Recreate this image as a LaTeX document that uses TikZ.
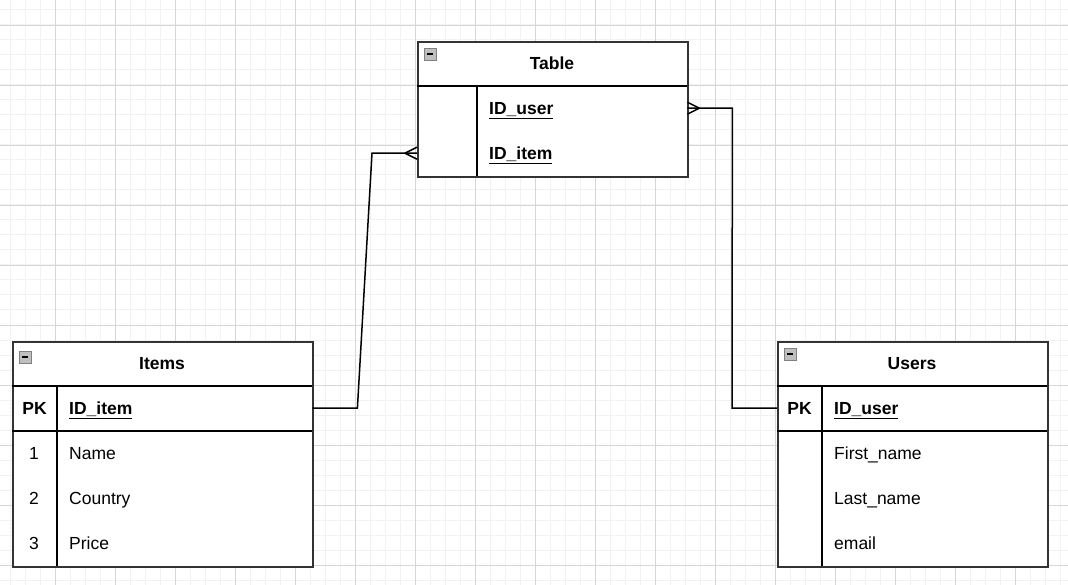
\documentclass[tikz,border=0pt]{standalone}
\usepackage{fontspec}
\setmainfont{Liberation Sans}
\usetikzlibrary{calc}
\begin{document}
\begin{tikzpicture}[x=1pt,y=-1pt,
  minorgrid/.style={draw=black!5,line width=1pt},
  majorgrid/.style={draw=black!16,line width=0.9pt},
  entbox/.style={draw=black!80,line width=2pt,fill=white,anchor=north west,inner sep=0pt},
  rowbox/.style={inner sep=0pt,anchor=north west},
  divider/.style={draw=black,line width=2pt},
  hdr/.style={font=\fontsize{17.5}{20}\selectfont\bfseries,anchor=base},
  fld/.style={font=\fontsize{17.5}{20}\selectfont,anchor=base west,inner sep=0pt},
  key/.style={font=\fontsize{17.5}{20}\selectfont\bfseries,anchor=base west,inner sep=0pt},
  num/.style={font=\fontsize{17.5}{20}\selectfont,anchor=base,inner sep=0pt},
  conn/.style={draw=black,line width=1.5pt},
  iconbox/.style={fill=black!25,draw=black!50,line width=0.8pt}]
\useasboundingbox (0,0) rectangle (1068,585);
\fill[white] (0,0) rectangle (1068,585);
% grid
\foreach \k in {0,...,70}{\path[minorgrid] ({10+15*\k},0) -- ({10+15*\k},585);}
\foreach \k in {0,...,38}{\path[minorgrid] (0,{10+15*\k}) -- (1068,{10+15*\k});}
\foreach \k in {0,...,17}{\path[majorgrid] ({55+60*\k},0) -- ({55+60*\k},585);}
\foreach \k in {0,...,9}{\path[majorgrid] (0,{25+60*\k}) -- (1068,{25+60*\k});}

% ---------- Table ----------
\node[entbox,minimum width=270pt,minimum height=135pt] (tbl) at (417,41) {};
\node[rowbox,minimum width=270pt,minimum height=45pt] (tuser) at (417,85.5) {};
\node[rowbox,minimum width=270pt,minimum height=45pt] (titem) at (417,130.5) {};
\draw[divider] (417,86) -- (687,86);
\draw[divider] (477,86) -- (477,176);
\filldraw[iconbox] (424,48) rectangle (436,60);
\draw[line width=1.2pt] (427,54) -- (433,54);
\node[hdr] (tblh) at (552,69.5) {Table};
\node[key] (tuk) at (489,114.5) {\underline{ID\_user}};
\node[key] (tik) at (489,160) {\underline{ID\_item}};

% ---------- Items ----------
\node[entbox,minimum width=300pt,minimum height=225pt] (items) at (12,341) {};
\node[rowbox,minimum width=300pt,minimum height=45pt] (ipk) at (12,385.5) {};
\draw[divider] (12,386) -- (312,386);
\draw[divider] (12,431) -- (312,431);
\draw[divider] (57,386) -- (57,566);
\filldraw[iconbox] (19,351) rectangle (31,363);
\draw[line width=1.2pt] (22,357) -- (28,357);
\node[hdr] (itemsh) at (162,369.5) {Items};
\node[hdr,inner sep=0pt] (ipkl) at (34.5,414.5) {PK};
\node[key] (iidk) at (69,414.5) {\underline{ID\_item}};
\node[num] (in1) at (34,459.5) {1};
\node[fld] (iname) at (69,459.5) {Name};
\node[num] (in2) at (34,504.5) {2};
\node[fld] (icountry) at (69,504.5) {Country};
\node[num] (in3) at (34,549.5) {3};
\node[fld] (iprice) at (69,549.5) {Price};

% ---------- Users ----------
\node[entbox,minimum width=270pt,minimum height=225pt] (users) at (777,341) {};
\node[rowbox,minimum width=270pt,minimum height=45pt] (upk) at (777,385.5) {};
\draw[divider] (777,386) -- (1047,386);
\draw[divider] (777,431) -- (1047,431);
\draw[divider] (822,386) -- (822,566);
\filldraw[iconbox] (784,348) rectangle (796,360);
\draw[line width=1.2pt] (787,354) -- (793,354);
\node[hdr] (usersh) at (912,369.5) {Users};
\node[hdr,inner sep=0pt] (upkl) at (799.5,414.5) {PK};
\node[key] (uidk) at (834,414.5) {\underline{ID\_user}};
\node[fld] (ufirst) at (834,459.5) {First\_name};
\node[fld] (ulast) at (834,504.5) {Last\_name};
\node[fld] (uemail) at (834,549.5) {email};

% ---------- connectors ----------
\coordinate (b1) at ($(ipk.east)+(45,0)$);
\coordinate (b2) at ($(titem.west)+(-45,0)$);
\draw[conn] (ipk.east) -- (b1) -- (b2) -- (titem.west);
\draw[conn] ([xshift=-12pt]titem.west) -- ([yshift=6pt]titem.west);
\draw[conn] ([xshift=-12pt]titem.west) -- ([yshift=-6pt]titem.west);

\coordinate (c1) at ($(tuser.east)+(45,0)$);
\coordinate (c2) at ($(upk.west)+(-45,0)$);
\draw[conn] (tuser.east) -- (c1) -- (c2) -- (upk.west);
\draw[conn] ([xshift=12pt]tuser.east) -- ([yshift=6pt]tuser.east);
\draw[conn] ([xshift=12pt]tuser.east) -- ([yshift=-6pt]tuser.east);
\end{tikzpicture}
\end{document}
